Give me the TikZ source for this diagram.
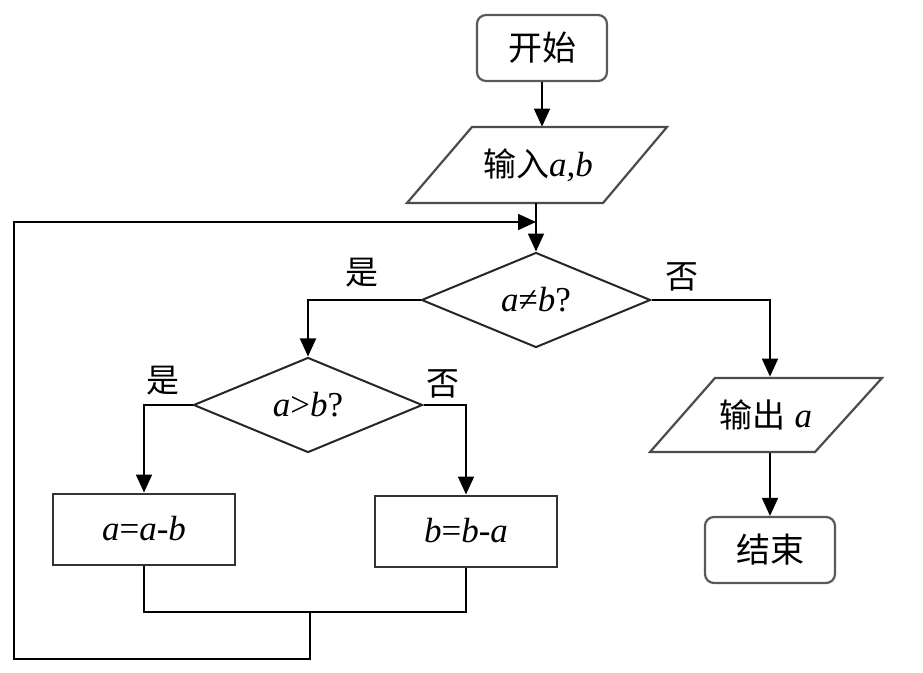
\documentclass[tikz,border=0pt]{standalone}
\usepackage{fontspec}
\setmainfont{Liberation Serif}
\newfontfamily\cjk{Noto Sans CJK SC}
\usetikzlibrary{shapes.geometric,arrows.meta}
\newcommand{\vi}[1]{{\itshape #1}}
\begin{document}
\begin{tikzpicture}[x=1pt,y=-1pt,
  line width=1.8pt,
  arr/.style={-{Triangle[width=16pt,length=18pt]}},
  term/.style={draw=black!65,line width=2.2pt,rounded corners=9pt,minimum width=130pt,minimum height=66pt,inner sep=0pt,font=\cjk\fontsize{34}{34}\selectfont},
  procbox/.style={draw=black!80,line width=2pt,minimum width=182pt,minimum height=71pt,inner sep=0pt,font=\fontsize{35}{35}\selectfont},
  iobox/.style={draw=none,minimum width=200pt,minimum height=75pt,inner sep=0pt,font=\fontsize{35}{35}\selectfont},
  decision/.style={diamond,draw=black!85,line width=2pt,minimum width=229pt,minimum height=95pt,inner sep=0pt,font=\fontsize{35}{35}\selectfont},
  lbl/.style={font=\cjk\fontsize{33}{33}\selectfont,inner sep=0pt}]
\useasboundingbox (0,0) rectangle (923,672);
\fill[white] (0,0) rectangle (923,672);
% nodes
\node[term] (start) at (542,48) {开始};
\node[iobox] (in) at (538,165) {{\cjk\fontsize{33}{33}\selectfont 输入}\vi{a,b}};
\draw[draw=black!70,line width=2.2pt] (472,127) -- (667,127) -- (603,203) -- (407,203) -- cycle;
\node[decision] (d1) at (536,300) {\vi{a}≠\vi{b}?};
\node[decision] (d2) at (308,405) {\vi{a}>\vi{b}?};
\node[procbox] (b1) at (144,529) {\vi{a}=\vi{a}-\vi{b}};
\node[procbox] (b2) at (466,531) {\vi{b}=\vi{b}-\vi{a}};
\node[iobox] (out) at (766,415) {{\cjk\fontsize{33}{33}\selectfont 输出} \vi{a}};
\draw[draw=black!70,line width=2.2pt] (715,378) -- (882,378) -- (815,452) -- (650,452) -- cycle;
\node[term] (end) at (770,550) {结束};
% labels
\node[lbl] (y1) at (362,273) {是};
\node[lbl] (n1) at (682,277) {否};
\node[lbl] (y2) at (163,381) {是};
\node[lbl] (n2) at (443,384) {否};
% connectors
\draw[arr] (start.south) -- (start.south |- in.north);
\draw[arr] (in.south -| d1.north) -- (d1.north);
\draw[arr] (d1.west) -| (d2.north);
\draw[arr] (d1.east) -| (out.north -| 770,0) coordinate (o1);
\draw[arr] (out.south -| end.north) -- (end.north);
\draw[arr] (d2.west) -| (b1.north);
\draw[arr] (d2.east) -| (b2.north);
\coordinate (j) at (310,612);
\coordinate (lb) at (310,659);
\coordinate (ll) at (14,659);
\coordinate (lt) at (14,222);
\coordinate (le) at (d1.north |- lt);
\draw (b1.south) |- (j) -| (b2.south);
\draw[arr] (j) -- (lb) -- (ll) -- (lt) -- (le);
\end{tikzpicture}
\end{document}
